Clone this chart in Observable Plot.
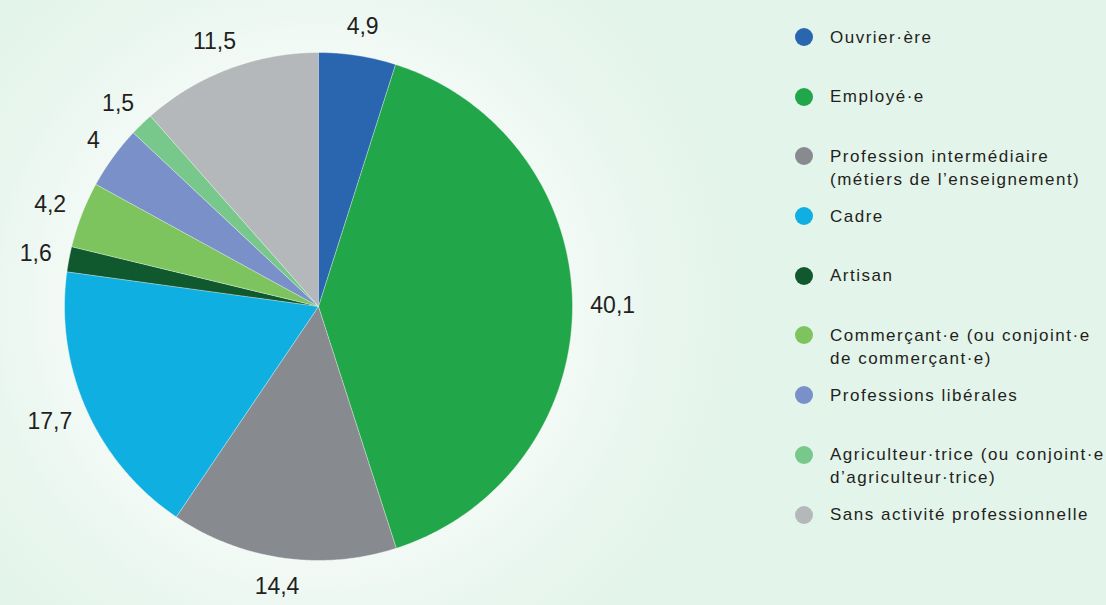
<!DOCTYPE html>
<html>
<head>
<meta charset="utf-8">
<script src="https://cdn.jsdelivr.net/npm/d3@7"></script>
<script src="https://cdn.jsdelivr.net/npm/@observablehq/plot@0.6"></script>
<style>
  html, body { margin: 0; padding: 0; }
  #wrap {
    position: relative; width: 1106px; height: 605px; overflow: hidden;
    background: radial-gradient(circle at 318px 306px, #f7fcf9 0px, #f3faf6 250px, #e9f6ef 330px, #e3f4ea 430px, #e3f4ea 100%);
    font-family: "Liberation Sans", Arial, sans-serif;
  }
  #chart { position: absolute; left: 0; top: 0; }
  #legend { position: absolute; left: 795px; top: 25.5px; }
  .item { position: relative; height: 59.7px; }
  .dot { position: absolute; left: 0; top: 2.5px; width: 18px; height: 18px; border-radius: 50%; }
  .lab { position: absolute; left: 35px; top: 0; font-size: 17px; line-height: 23px; letter-spacing: 1.5px; color: #231f20; white-space: pre; }
</style>
</head>
<body>
<div id="wrap">
  <div id="chart"></div>
  <div id="legend"></div>
</div>
<script>
const categories = [
  "Ouvrier·ère",
  "Employé·e",
  "Profession intermédiaire\n(métiers de l’enseignement)",
  "Cadre",
  "Artisan",
  "Commerçant·e (ou conjoint·e\nde commerçant·e)",
  "Professions libérales",
  "Agriculteur·trice (ou conjoint·e\nd’agriculteur·trice)",
  "Sans activité professionnelle"
];
const values = [4.9, 40.1, 14.4, 17.7, 1.6, 4.2, 4, 1.5, 11.5];
const colors = ["#2a65b0", "#22a64a", "#878b8f", "#0fafe2", "#10592e", "#7dc45f", "#7a90c8", "#78c78b", "#b5b8bb"];

// Build slice polygons (unit circle) from the values
const R = 254; // pixel radius implied by the margins below
const total = d3.sum(values);
const slices = [];
const labels = [];
let cum = 0;
categories.forEach((cat, i) => {
  const a0 = cum / total * 2 * Math.PI;
  cum += values[i];
  const a1 = cum / total * 2 * Math.PI;
  slices.push({cat, x: 0, y: 0});
  const n = Math.max(2, Math.ceil((a1 - a0) / 0.01));
  for (let k = 0; k <= n; k++) {
    const a = a0 + (a1 - a0) * k / n;
    slices.push({cat, x: Math.sin(a), y: Math.cos(a)});
  }
  // outside-end label: anchor just beyond the rim, box pushed outward by its half size
  const am = (a0 + a1) / 2;
  const text = String(values[i]).replace(".", ",");
  const halfW = (text.replace(",", "").length * 12.8 + (text.includes(",") ? 6.4 : 0)) / 2;
  const halfH = 11;
  const ra = 1.07;
  labels.push({
    x: ra * Math.sin(am) + Math.sin(am) * halfW / R,
    y: ra * Math.cos(am) + Math.cos(am) * halfH / R,
    text
  });
});

const plot = Plot.plot({
  width: 1106,
  height: 605,
  marginLeft: 64,
  marginRight: 534,
  marginTop: 52,
  marginBottom: 45,
  x: {domain: [-1, 1], axis: null},
  y: {domain: [-1, 1], axis: null},
  color: {domain: categories, range: colors},
  style: {background: "transparent", overflow: "visible", fontFamily: "Liberation Sans, Arial, sans-serif"},
  marks: [
    Plot.line(slices, {x: "x", y: "y", z: "cat", fill: "cat", stroke: "#ffffff", strokeWidth: 0.8, strokeOpacity: 0.5, curve: "linear"}),
    Plot.text(labels, {x: "x", y: "y", text: "text", fontSize: 23, fill: "#231f20"})
  ]
});
document.getElementById("chart").appendChild(plot);

const legend = document.getElementById("legend");
categories.forEach((cat, i) => {
  const item = document.createElement("div");
  item.className = "item";
  const dot = document.createElement("div");
  dot.className = "dot";
  dot.style.background = colors[i];
  const lab = document.createElement("div");
  lab.className = "lab";
  lab.textContent = cat;
  item.appendChild(dot);
  item.appendChild(lab);
  legend.appendChild(item);
});
</script>
</body>
</html>
